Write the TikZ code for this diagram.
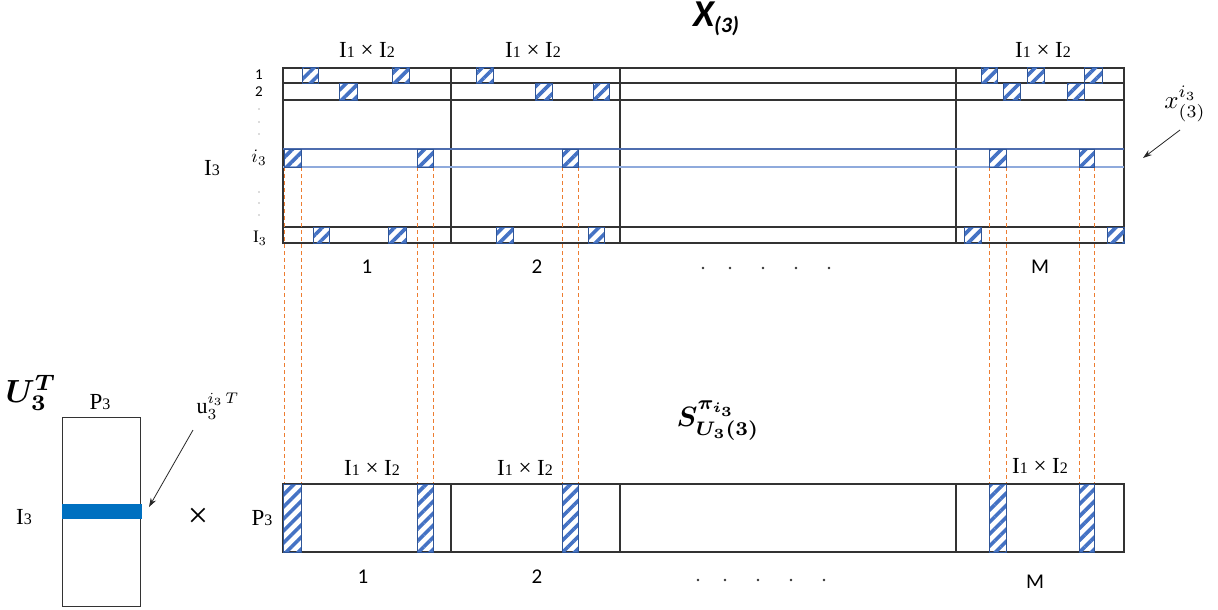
\documentclass[tikz,border=0pt]{standalone}
\usepackage{amsmath,bm,graphicx}
\usepackage{fontspec}
\setmainfont{Liberation Serif}
\newfontfamily\carl{Carlito}
\usetikzlibrary{patterns.meta,arrows.meta}
\definecolor{hblue}{HTML}{4472C4}
\definecolor{hedge}{HTML}{2F5597}
\definecolor{dorange}{HTML}{ED7D31}
\definecolor{ubar}{HTML}{0070C0}
\definecolor{rowblue}{HTML}{4F6EAF}
\definecolor{rowblueb}{HTML}{8FAADC}
\newcommand\dimlab{I{\fontsize{16}{16}\selectfont 1} × I{\fontsize{16}{16}\selectfont 2}}
\newcommand\hatchbox[4]{\draw[hatch] (#1,#2) rectangle (#3,#4);}
\tikzset{
  frame/.style={draw=black!80, line width=1.1pt},
  hatch/.style={pattern={Lines[angle=45,distance=8.5pt,line width=3.6pt]}, pattern color=hblue, draw=hedge, line width=1pt},
  guide/.style={draw=dorange, line width=0.8pt, dash pattern=on 4pt off 3pt},
  serif/.style={inner sep=0pt, font=\fontsize{23}{26}\selectfont},
  sans/.style={inner sep=0pt, font=\carl\fontsize{21}{24}\selectfont},
  rowlab/.style={inner sep=0pt, font=\carl\fontsize{15}{16}\selectfont},
  mathlab/.style={inner sep=0pt, font=\fontsize{10}{12}\selectfont},
  arr/.style={-{Stealth[length=9pt,width=6pt]}, line width=0.8pt, black!85},
  dotc/.style={fill=black!80},
}
\begin{document}
\begin{tikzpicture}[x=1pt,y=-1pt]
\useasboundingbox (0,0) rectangle (1218,610);
% title
\node[inner sep=0pt, font=\carl\bfseries\itshape\fontsize{38}{40}\selectfont] (title) at (716,19) {X\raisebox{-6pt}{\fontsize{22}{24}\selectfont (3)}};
% top labels
\node[serif] (ta) at (367,50) {\dimlab};
\node[serif] (tb) at (533,50) {\dimlab};
\node[serif] (tc) at (1043,50) {\dimlab};
% top matrix
\draw[frame] (283,68) rectangle (1124,243);
\foreach \y in {83,100,227} \draw[frame] (283,\y) -- (1124,\y);
\foreach \x in {451,620,956} \draw[frame] (\x,68) -- (\x,243);
\draw[rowblue, line width=1.1pt] (283,149) -- (1124,149);
\draw[rowblueb, line width=1.1pt] (283,167) -- (1124,167);
% orange guides
\foreach \x in {284,301,417,433,562.5,578.5,989,1006,1079,1094}
  \draw[guide] (\x,167) -- (\x,484);
% hatched squares, row 1
\hatchbox{302}{68}{318}{83}
\hatchbox{392}{68}{409}{83}
\hatchbox{476}{68}{493}{83}
\hatchbox{981}{68}{997}{83}
\hatchbox{1027}{68}{1044}{83}
\hatchbox{1084}{68}{1102}{83}
% row 2
\hatchbox{339}{83}{357}{100}
\hatchbox{535}{83}{552}{100}
\hatchbox{593}{83}{609}{100}
\hatchbox{1003}{83}{1020}{100}
\hatchbox{1067}{83}{1084}{100}
% row i3
\hatchbox{284}{149}{301}{167}
\hatchbox{417}{149}{433}{167}
\hatchbox{562.5}{149}{578.5}{167}
\hatchbox{989}{149}{1006}{167}
\hatchbox{1079}{149}{1094}{167}
% row I3
\hatchbox{313}{227}{329}{243}
\hatchbox{388}{227}{406}{243}
\hatchbox{496}{227}{513}{243}
\hatchbox{588}{227}{604}{243}
\hatchbox{964}{227}{981}{243}
\hatchbox{1107}{227}{1124}{243}
% row labels
\node[rowlab] (r1) at (259,75) {1};
\node[rowlab] (r2) at (259,92) {2};
\foreach \y in {109,122,134,192,203,215} \fill[black!60] (259,\y) circle (0.6pt);
\node[mathlab] (ri) at (259,158) {\scalebox{1.9}{$i_3$}};
\node[mathlab] (rI) at (260,238) {\scalebox{1.75}{I$_3$}};
\node[serif] (bigI) at (212,168) {I{\fontsize{16}{16}\selectfont 3}};
% column labels top
\node[sans] (c1) at (367,267) {1};
\node[sans] (c2) at (537,267) {2};
\node[sans] (cM) at (1040,267) {M};
\foreach \x in {703,730,763,796,829} \fill[dotc] (\x,268) circle (1.4pt);
% x label
\node[mathlab] (xl) at (1185,104) {\scalebox{2.5}{$x^{i_3}_{(3)}$}};
\coordinate (xs) at (1180,130);
\coordinate (xt) at (1143,158);
\draw[arr] (xs) -- (xt);
% S label
\node[mathlab] (sl) at (718,421) {\scalebox{2.8}{$\bm{S^{\pi_{i_3}}_{U_3(3)}}$}};
% bottom labels
\node[serif] (ba) at (372,468) {\dimlab};
\node[serif] (bb) at (525,468) {\dimlab};
\node[serif] (bc) at (1040,466) {\dimlab};
% bottom matrix
\draw[frame] (283,484) rectangle (1124,552);
\foreach \x in {451,620,956} \draw[frame] (\x,484) -- (\x,552);
\hatchbox{283}{484}{301}{552}
\hatchbox{417}{484}{433}{552}
\hatchbox{562.5}{484}{578.5}{552}
\hatchbox{989}{484}{1006}{552}
\hatchbox{1079}{484}{1094}{552}
\node[serif] (bp) at (262,518) {P{\fontsize{16}{16}\selectfont 3}};
\node[sans] (d1) at (363,577) {1};
\node[sans] (d2) at (537,577) {2};
\node[sans] (dM) at (1035,582) {M};
\foreach \x in {698,725,758,791,824} \fill[dotc] (\x,580) circle (1.4pt);
% U matrix
\node[mathlab] (ul) at (31,393) {\scalebox{3.2}{$\bm{U_3^T}$}};
\node[serif] (up) at (100,402) {P{\fontsize{16}{16}\selectfont 3}};
\draw[black!80, line width=1pt] (62,417) rectangle (140,606);
\fill[ubar] (62,504) rectangle (141.5,518.5);
\node[serif] (ui) at (24,517) {I{\fontsize{16}{16}\selectfont 3}};
\node[inner sep=0pt, font=\fontsize{36}{36}\selectfont] (times) at (198,518) {×};
\node[mathlab] (uu) at (218,406) {\scalebox{2.2}{$\mathrm{u}_3^{i_3\,T}$}};
\coordinate (us) at (193,430);
\coordinate (ut) at (149,507);
\draw[arr] (us) -- (ut);
\end{tikzpicture}
\end{document}
